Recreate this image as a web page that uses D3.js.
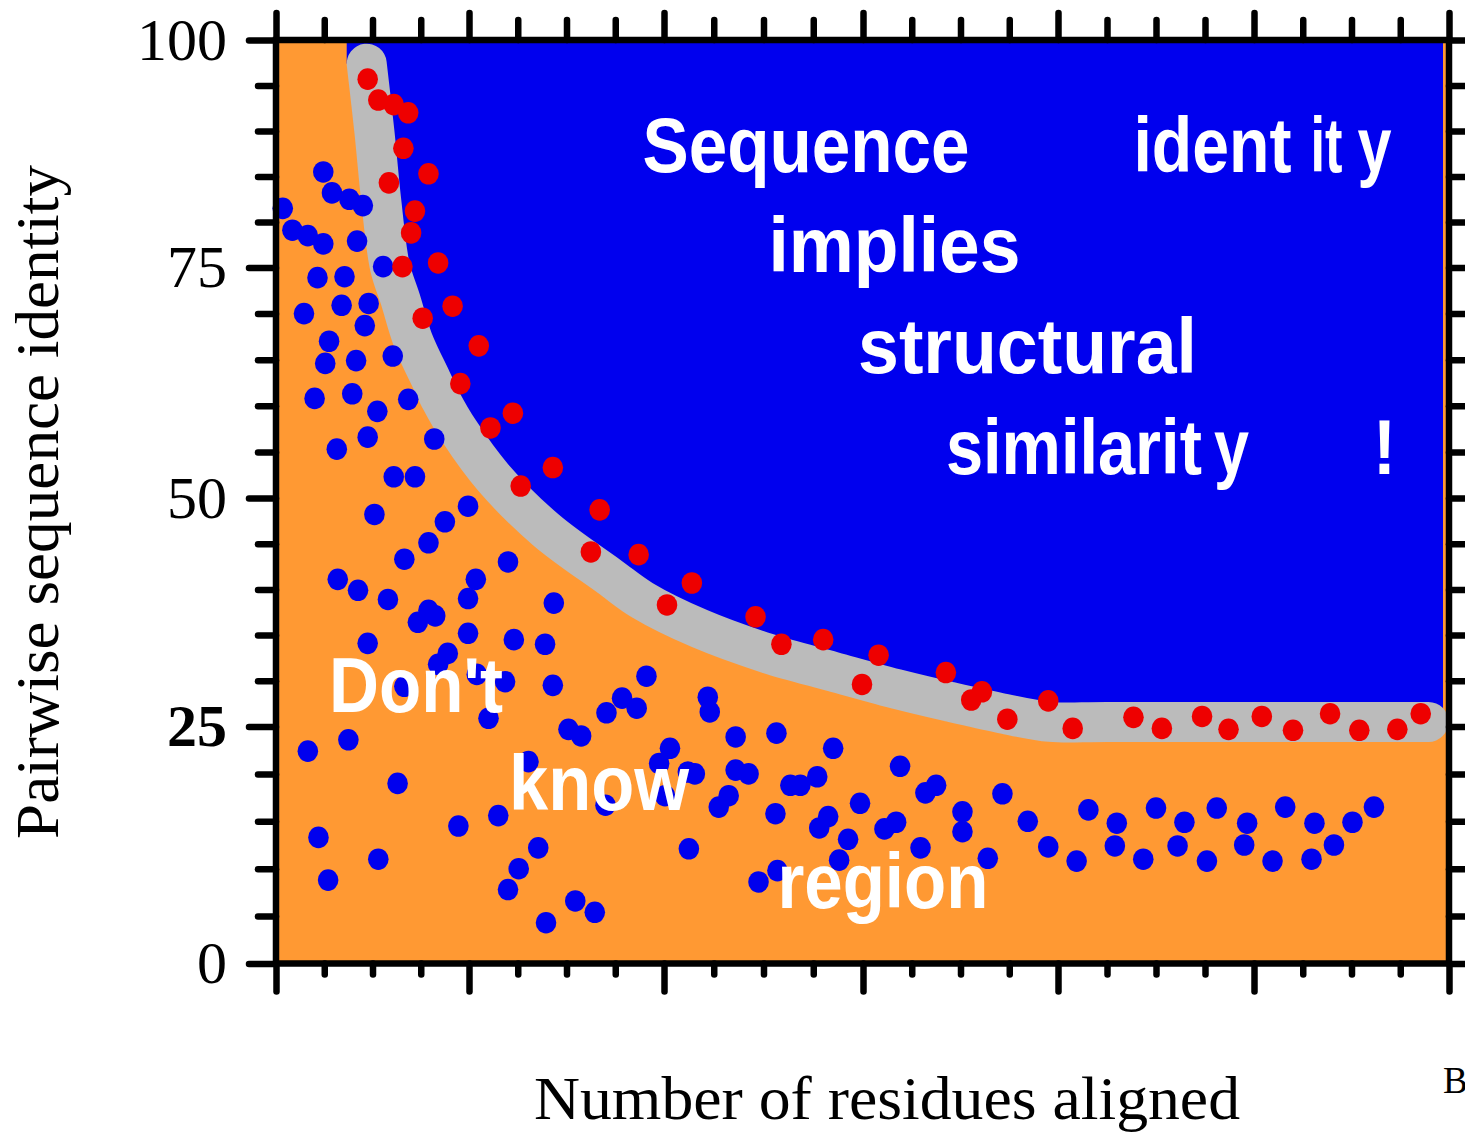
<!DOCTYPE html>
<html>
<head>
<meta charset="utf-8">
<script src="https://cdn.jsdelivr.net/npm/d3@7"></script>
<style>
  html, body { margin: 0; padding: 0; background: #ffffff; }
  svg { display: block; }
</style>
</head>
<body>
<svg id="chart" width="1465" height="1132"></svg>
<script>
// Axis ticks
const residueMajorTicks = [0, 20, 40, 60, 80, 100, 120];
const identityMajorTicks = [0, 25, 50, 75, 100];
const identityTickLabels = ["0", "25", "50", "75", "100"];

// Threshold curve (number of residues aligned vs. % identity)
const boundaryResidues = [9.4, 10.2, 10.9, 11.8, 12.9, 14.2, 16.1, 17.1, 19.0, 22.5, 27.9, 34.4, 37.8, 43.6, 50.4, 57.0, 63.8, 68.9, 74.0, 79.2, 85.0, 117.9];
const boundaryIdentity = [97.4, 89.9, 82.4, 75.1, 71.5, 67.1, 62.8, 60.6, 57.2, 52.2, 46.5, 41.4, 38.8, 35.7, 33.0, 31.0, 29.0, 27.7, 26.5, 25.5, 25.5, 25.5];

// Pairs above the threshold
const redResidues = [9.5, 10.6, 12.2, 13.7, 13.2, 15.8, 11.7, 14.4, 14.0, 13.1, 16.8, 18.3, 15.2, 21.0, 19.1,
  24.5, 22.2, 28.6, 25.3, 33.4, 32.5, 37.4, 42.8, 40.3, 49.2, 51.8, 56.0, 61.6, 59.9, 68.5,
  71.1, 72.2, 74.8, 79.0, 81.5, 87.7, 90.6, 94.7, 97.4, 100.8, 104.0, 107.8, 110.8, 114.7, 117.1];
const redIdentity = [95.7, 93.4, 92.9, 92.0, 88.1, 85.3, 84.3, 81.2, 78.8, 75.1, 75.5, 70.8, 69.5, 66.5, 62.4,
  59.2, 57.6, 53.3, 51.3, 48.7, 44.1, 43.8, 40.7, 38.3, 37.0, 34.0, 34.5, 32.8, 29.6, 30.9,
  27.9, 28.8, 25.8, 27.8, 24.8, 26.0, 24.8, 26.1, 24.7, 26.1, 24.6, 26.4, 24.6, 24.7, 26.4];

// Pairs below the threshold
const blueResidues = [4.9, 5.8, 7.6, 9.0, 0.7, 1.7, 3.3, 4.9, 8.4, 11.1,
  4.3, 7.1, 6.8, 9.6, 2.9, 9.2, 5.5, 5.1, 8.3, 12.1,
  4.0, 7.9, 10.5, 13.7, 9.5, 6.3, 16.4, 12.2, 14.4, 10.2,
  19.9, 17.5, 15.8, 13.3, 6.4, 8.5, 11.6, 20.7, 24.0, 19.9,
  28.7, 15.8, 16.5, 14.7, 19.9, 9.5, 24.6, 27.8, 17.8, 16.8,
  13.3, 20.8, 23.7, 28.6, 38.2, 35.7, 37.2, 34.1, 44.4, 44.6,
  22.0, 30.2, 31.5, 40.6, 39.5, 47.2, 51.3, 3.3, 7.5, 26.1,
  42.4, 43.1, 47.2, 48.5, 12.6, 52.7, 34.0, 40.1, 46.5, 45.5,
  51.2, 23.0, 18.9, 4.4, 10.6, 5.4, 27.1, 25.1, 24.0, 42.5,
  30.9, 32.9, 27.9, 49.5, 51.4, 57.0, 53.7, 55.4, 63.8, 67.5,
  66.4, 59.7, 56.5, 55.6, 58.5, 70.2, 70.2, 62.2, 63.4, 74.3,
  65.9, 57.6, 72.8, 76.9, 79.0, 83.1, 81.9, 86.0, 85.8, 88.7,
  90.0, 92.9, 92.2, 95.2, 96.2, 99.3, 99.0, 101.9, 103.2, 106.2,
  105.9, 108.2, 110.1, 112.3];
const blueIdentity = [85.5, 83.2, 82.5, 81.8, 81.5, 79.1, 78.5, 77.6, 77.9, 75.1,
  73.9, 74.0, 70.9, 71.1, 70.0, 68.7, 67.0, 64.6, 64.9, 65.4,
  60.8, 61.3, 59.4, 60.7, 56.6, 55.3, 56.4, 52.3, 52.3, 48.2,
  49.1, 47.4, 45.1, 43.3, 41.1, 39.9, 38.9, 41.1, 43.0, 39.0,
  38.5, 37.7, 37.1, 36.4, 35.2, 34.1, 34.5, 34.0, 33.0, 31.8,
  29.4, 30.7, 29.9, 29.5, 30.5, 28.1, 27.0, 26.5, 28.2, 26.6,
  25.9, 24.7, 24.0, 22.7, 21.1, 23.9, 24.3, 22.4, 23.6, 21.3,
  20.2, 20.0, 20.4, 20.0, 19.0, 18.8, 16.7, 17.7, 17.7, 16.5,
  15.8, 15.6, 14.5, 13.3, 11.0, 8.8, 12.2, 10.0, 7.8, 12.1,
  6.6, 5.4, 4.3, 8.6, 9.8, 22.7, 18.8, 19.7, 20.8, 18.8,
  18.0, 16.9, 15.5, 14.3, 13.1, 16.0, 13.9, 14.2, 14.9, 17.9,
  12.2, 10.9, 11.1, 15.0, 12.3, 16.2, 10.8, 14.8, 12.4, 11.0,
  16.4, 14.9, 12.4, 10.8, 16.4, 14.8, 12.5, 10.8, 16.5, 14.8,
  11.0, 12.5, 14.9, 16.5];

const COLORS = {
  orange: "#ff9933",
  blue: "#0000ee",
  red: "#ee0000",
  band: "#bbbbbb",
  text: "#ffffff",
  axis: "#000000"
};

const svg = d3.select("#chart");

// Piecewise scales following the drawn tick marks
const x = d3.scaleLinear().domain(residueMajorTicks).range([276, 469, 664, 863, 1058, 1254, 1449]);
const y = d3.scaleLinear().domain(identityMajorTicks).range([963.5, 726.5, 498, 267.5, 40]);

const xMin = x(0), xMax = x(120), yTop = y(100), yBot = y(0);

// Background: the "don't know" zone fills the plot
svg.append("rect")
  .attr("x", xMin).attr("y", yTop)
  .attr("width", xMax - xMin).attr("height", yBot - yTop)
  .attr("fill", COLORS.orange);

// Threshold points in pixel space
const curvePts = boundaryResidues.map((r, i) => [x(r), y(boundaryIdentity[i])]);
const curveGen = d3.line().curve(d3.curveCatmullRom.alpha(0.5));
const curvePath = curveGen(curvePts);

// Zone above the threshold
const first = curvePts[0], last = curvePts[curvePts.length - 1];
const leftEdge = first[0] - 20;
const rightEdge = xMax - 6;
const regionPath = `M${leftEdge},${yTop} L${leftEdge},${first[1]} ` +
  curvePath.replace(/^M/, "L") +
  ` L${rightEdge},${last[1]} L${rightEdge},${yTop} Z`;
svg.append("path").attr("d", regionPath).attr("fill", COLORS.blue);

// Threshold band
svg.append("path")
  .attr("d", curvePath)
  .attr("fill", "none")
  .attr("stroke", COLORS.band)
  .attr("stroke-width", 40)
  .attr("stroke-linecap", "round")
  .attr("stroke-linejoin", "round");

// Scatter points
const dotRx = 10.3, dotRy = 10.8;
svg.append("g").selectAll("ellipse")
  .data(blueResidues.map((r, i) => ({ r, p: blueIdentity[i] })))
  .join("ellipse")
  .attr("cx", d => x(d.r)).attr("cy", d => y(d.p))
  .attr("rx", dotRx).attr("ry", dotRy)
  .attr("fill", COLORS.blue);

svg.append("g").selectAll("ellipse")
  .data(redResidues.map((r, i) => ({ r, p: redIdentity[i] })))
  .join("ellipse")
  .attr("cx", d => x(d.r)).attr("cy", d => y(d.p))
  .attr("rx", dotRx).attr("ry", dotRy)
  .attr("fill", COLORS.red);

// Zone annotations (anchored at the baseline start, in data units)
const notes = [
  { r: 37.8, p: 85.5, parts: [["Sequence", 0, 327]] },
  { r: 87.7, p: 85.5, parts: [["ident", 0, 158], ["it", 177, 32], ["y", 224, 34]] },
  { r: 50.5, p: 74.5, parts: [["implies", 0, 252]] },
  { r: 59.5, p: 63.6, parts: [["structural", 0, 339]] },
  { r: 68.5, p: 52.6, parts: [["similarit", 0, 256], ["y", 268, 35]] },
  { r: 112.2, p: 52.6, parts: [["!", 0, 23]] },
  { r: 5.5, p: 26.6, parts: [["Don't", 0, 174]] },
  { r: 24.1, p: 16.2, parts: [["know", 0, 180]] },
  { r: 51.4, p: 5.9, parts: [["region", 0, 211]] }
];

const noteG = svg.append("g")
  .attr("font-family", "'Liberation Sans', Arial, Helvetica, sans-serif")
  .attr("font-weight", "bold")
  .attr("font-size", 77)
  .attr("fill", COLORS.text);

notes.forEach(n => {
  const t = noteG.append("text").attr("y", y(n.p));
  n.parts.forEach(([s, off, w]) => {
    t.append("tspan")
      .attr("x", x(n.r) + off)
      .attr("textLength", w)
      .attr("lengthAdjust", "spacingAndGlyphs")
      .text(s);
  });
});

// Axes
const serif = "'Liberation Serif', 'Times New Roman', Times, serif";
const residueMinor = d3.range(0, 121, 5).filter(v => v % 20 !== 0);
const identityMinor = d3.range(0, 101, 5).filter(v => v % 25 !== 0);

function styleTicks(g) {
  g.select(".domain").remove();
  g.selectAll(".tick line")
    .attr("stroke", COLORS.axis)
    .attr("stroke-width", 6.5)
    .attr("stroke-linecap", "round");
}

// Left
svg.append("g").attr("transform", `translate(${xMin},0)`)
  .call(d3.axisLeft(y).tickValues(identityMinor).tickSize(18).tickFormat(""))
  .call(styleTicks);
const leftMajor = svg.append("g").attr("transform", `translate(${xMin},0)`)
  .call(d3.axisLeft(y).tickValues(identityMajorTicks).tickSize(27).tickPadding(22)
    .tickFormat((d, i) => identityTickLabels[i]))
  .call(styleTicks);
leftMajor.selectAll(".tick text")
  .attr("font-family", serif)
  .attr("font-size", 60)
  .attr("fill", COLORS.axis)
  .attr("font-weight", d => d === 25 ? "bold" : "normal");

// Right
svg.append("g").attr("transform", `translate(${xMax},0)`)
  .call(d3.axisRight(y).tickValues(identityMinor).tickSize(18).tickFormat(""))
  .call(styleTicks);
svg.append("g").attr("transform", `translate(${xMax},0)`)
  .call(d3.axisRight(y).tickValues(identityMajorTicks).tickSize(27).tickFormat(""))
  .call(styleTicks);

// Top
svg.append("g").attr("transform", `translate(0,${yTop})`)
  .call(d3.axisTop(x).tickValues(residueMinor).tickSize(20).tickFormat(""))
  .call(styleTicks);
svg.append("g").attr("transform", `translate(0,${yTop})`)
  .call(d3.axisTop(x).tickValues(residueMajorTicks).tickSize(27).tickFormat(""))
  .call(styleTicks);

// Bottom
svg.append("g").attr("transform", `translate(0,${yBot})`)
  .call(d3.axisBottom(x).tickValues(residueMinor).tickSize(11).tickFormat(""))
  .call(styleTicks);
svg.append("g").attr("transform", `translate(0,${yBot})`)
  .call(d3.axisBottom(x).tickValues(residueMajorTicks).tickSize(28).tickFormat(""))
  .call(styleTicks);

// Frame
svg.append("rect")
  .attr("x", xMin).attr("y", yTop)
  .attr("width", xMax - xMin).attr("height", yBot - yTop)
  .attr("fill", "none")
  .attr("stroke", COLORS.axis)
  .attr("stroke-width", 6.5);

// Axis titles
svg.append("text")
  .attr("x", 534).attr("y", 1119)
  .attr("font-family", serif).attr("font-size", 61)
  .attr("textLength", 706).attr("lengthAdjust", "spacingAndGlyphs")
  .attr("fill", COLORS.axis)
  .text("Number of residues aligned");

svg.append("text")
  .attr("transform", "translate(58,502) rotate(-90)")
  .attr("text-anchor", "middle")
  .attr("font-family", serif).attr("font-size", 61)
  .attr("textLength", 674).attr("lengthAdjust", "spacingAndGlyphs")
  .attr("fill", COLORS.axis)
  .text("Pairwise sequence identity");

// Panel letter at the lower right corner
svg.append("text")
  .attr("x", 1443).attr("y", 1093)
  .attr("font-family", serif).attr("font-size", 37)
  .attr("fill", COLORS.axis)
  .text("B");
</script>
</body>
</html>
